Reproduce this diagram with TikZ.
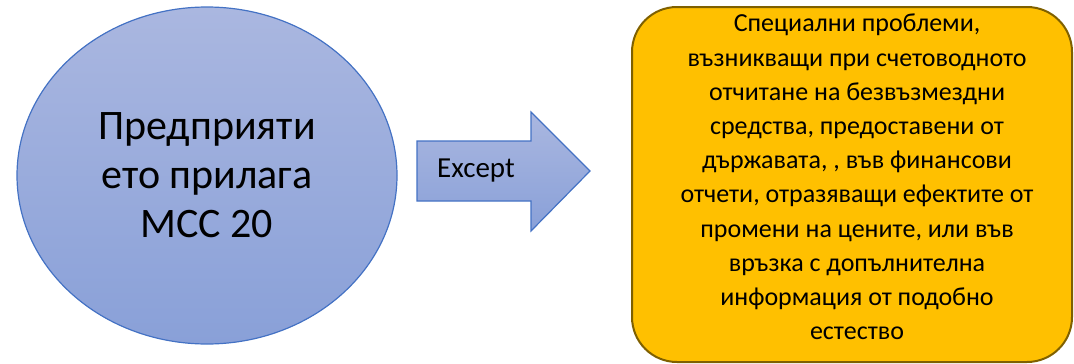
\documentclass[tikz,border=0pt]{standalone}
\usepackage{fontspec}
\setmainfont{Carlito}
\usetikzlibrary{shapes.geometric}
\definecolor{blueedge}{RGB}{68,114,196}
\definecolor{bluetop}{RGB}{170,183,224}
\definecolor{bluebot}{RGB}{137,160,216}
\definecolor{goldfill}{RGB}{255,192,0}
\definecolor{goldedge}{RGB}{127,96,0}
\tikzset{
  bluebody/.style={draw=blueedge, line width=1.2pt, top color=bluetop, bottom color=bluebot},
  goldbox/.style={draw=goldedge, line width=2pt, fill=goldfill, rounded corners=45pt},
}
\begin{document}
\begin{tikzpicture}[x=1pt,y=-1pt]
\useasboundingbox (0,0) rectangle (1074,364);
% ellipse
\node[ellipse, bluebody, minimum width=380pt, minimum height=337pt, inner sep=0pt,
      align=center, font=\fontsize{42}{49}\selectfont] (ent) at (207,175.5)
  {Предприяти\\ето прилага\\МСС 20};
% arrow
\coordinate (a1) at (417,141);
\coordinate (a2) at (531,141);
\coordinate (a3) at (531,112);
\coordinate (a4) at (590,171);
\coordinate (a5) at (531,231);
\coordinate (a6) at (531,201);
\coordinate (a7) at (417,201);
\draw[bluebody, line join=miter] (a1) -- (a2) -- (a3) -- (a4) -- (a5) -- (a6) -- (a7) -- cycle;
\node[font=\fontsize{29}{32}\selectfont, inner sep=0pt] (exc) at (476,171) {Except};
% rounded box
\draw[goldbox] (632,7) rectangle (1072,362);
\node[align=center, inner sep=0pt, font=\fontsize{26}{34.2}\selectfont] (txt) at (857,177)
  {Специални проблеми,\\
   възникващи при счетоводното\\
   отчитане на безвъзмездни\\
   средства, предоставени от\\
   държавата, , във финансови\\
   отчети, отразяващи ефектите от\\
   промени на цените, или във\\
   връзка с допълнителна\\
   информация от подобно\\
   естество};
\end{tikzpicture}
\end{document}
